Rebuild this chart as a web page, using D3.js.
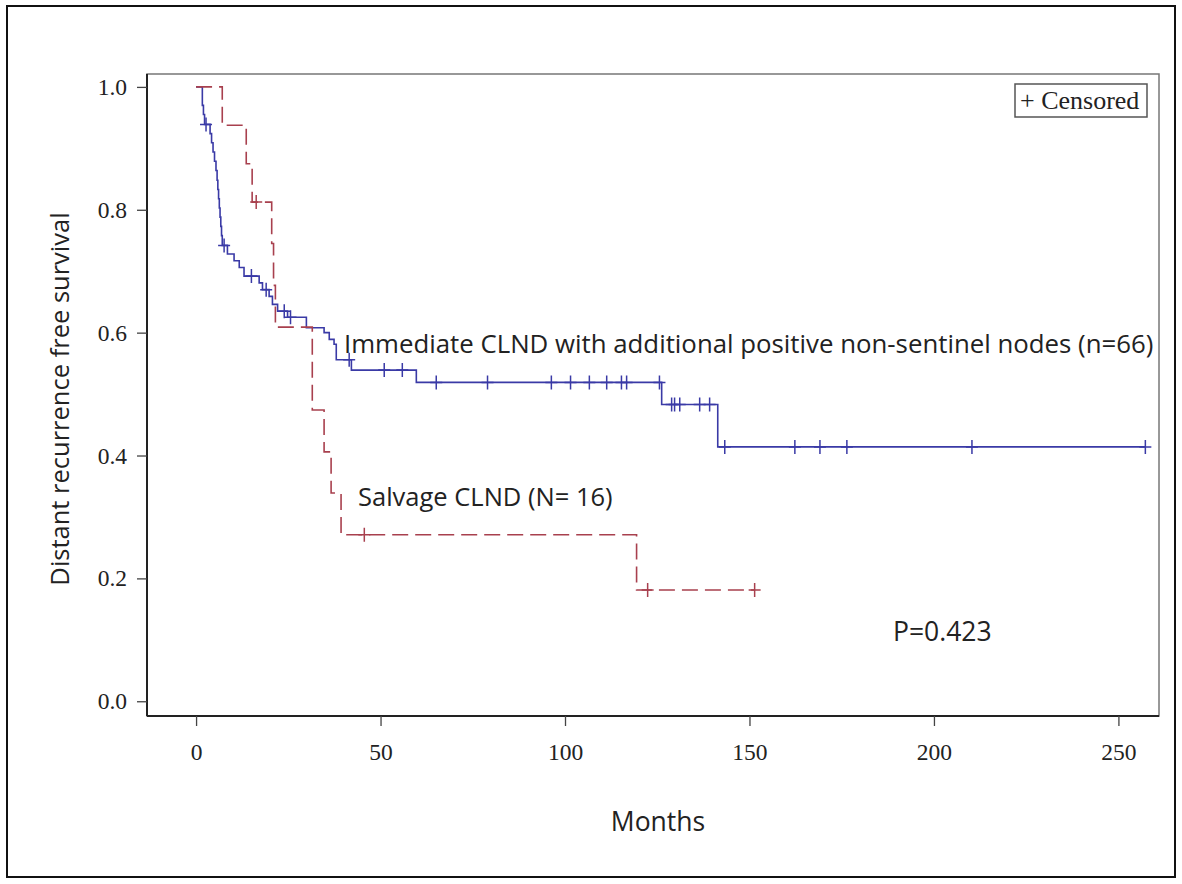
<!DOCTYPE html>
<html>
<head>
<meta charset="utf-8">
<script src="https://cdn.jsdelivr.net/npm/d3@7"></script>
<style>
  body { margin: 0; background: #fff; }
  svg { display: block; }
</style>
</head>
<body>
<div id="chart"></div>
<script>
// Kaplan-Meier steps (months, survival after the step)
const immTimes = [0, 1.7, 2.0, 2.3, 3.8, 4.2, 4.6, 5.0, 5.4, 5.7, 5.9, 6.1, 6.3, 6.5, 6.7, 6.9, 7.1,
  8.5, 10.3, 11.7, 13.0, 17.1, 18.0, 19.8, 20.7, 22.1, 24.8, 29.9, 34.7, 36.1, 37.4, 38.0, 42.1, 59.7, 126.2, 141.4];
const immSurv = [1, 0.970, 0.955, 0.939, 0.924, 0.909, 0.894, 0.879, 0.864, 0.848, 0.833, 0.818, 0.803, 0.788, 0.773, 0.758, 0.742,
  0.728, 0.717, 0.706, 0.692, 0.681, 0.670, 0.659, 0.646, 0.635, 0.625, 0.608, 0.600, 0.589, 0.581, 0.556, 0.539, 0.519, 0.483, 0.414];
const immCensored = [2.7, 7.6, 15.0, 19.0, 23.9, 25.6, 41.5, 51.0, 55.9, 65.1, 79.0, 96.3, 101.5, 106.6, 111.3,
  115.3, 116.7, 125.6, 128.9, 129.7, 131.1, 136.5, 139.2, 143.3, 162.3, 169.1, 176.4, 210.3, 257.3];

const salTimes = [0, 7.1, 13.6, 15.2, 20.5, 21.0, 21.5, 31.5, 34.7, 36.6, 39.3, 119.4];
const salSurv = [1, 0.9375, 0.875, 0.8125, 0.745, 0.677, 0.609, 0.474, 0.406, 0.339, 0.271, 0.181];
const salCensored = [16.3, 45.6, 122.4, 151.4];

const xTicks = [0, 50, 100, 150, 200, 250];
const yTicks = [0, 0.2, 0.4, 0.6, 0.8, 1.0];

const W = 1182, H = 884;
const plot = {left: 147, right: 1159, top: 74, bottom: 716};

const svg = d3.select('#chart').append('svg')
  .attr('width', W).attr('height', H);

// outer frame
svg.append('rect')
  .attr('x', 7).attr('y', 6).attr('width', 1168).attr('height', 871)
  .attr('fill', 'none').attr('stroke', '#111').attr('stroke-width', 2);

const x = d3.scaleLinear().domain([-13.3, 261]).range([plot.left, plot.right]);
const y = d3.scaleLinear().domain([-0.024, 1.021]).range([plot.bottom, plot.top]);

// plot box
svg.append('rect')
  .attr('x', plot.left).attr('y', plot.top)
  .attr('width', plot.right - plot.left).attr('height', plot.bottom - plot.top)
  .attr('fill', 'none').attr('stroke', '#777').attr('stroke-width', 1.5);

const serif = '"Liberation Serif", "Times New Roman", serif';
const sans = '"Open Sans", "Noto Sans", sans-serif';

const xAxis = svg.append('g')
  .attr('transform', `translate(0,${plot.bottom})`)
  .call(d3.axisBottom(x).tickValues(xTicks).tickSize(10).tickPadding(17).tickSizeOuter(0));
const yAxis = svg.append('g')
  .attr('transform', `translate(${plot.left},0)`)
  .call(d3.axisLeft(y).tickValues(yTicks).tickFormat(d3.format('.1f')).tickSize(10).tickPadding(10).tickSizeOuter(0));

[xAxis, yAxis].forEach(function(g){
  g.select('.domain').attr('stroke', '#222').attr('stroke-width', 2);
  g.selectAll('.tick line').attr('stroke', '#444').attr('stroke-width', 1.3);
  g.selectAll('.tick text').attr('font-family', serif).attr('font-size', 23.5).attr('fill', '#222');
});
xAxis.select('.domain').attr('d', `M${plot.left},0H${plot.right}`);
yAxis.select('.domain').attr('d', `M0,${plot.top}V${plot.bottom}`);

function stepData(times, surv, censored){
  const pts = times.map(function(t, i){ return [t, surv[i]]; });
  const last = d3.max(censored.concat(times));
  pts.push([last, surv[surv.length - 1]]);
  return pts;
}
function survAt(times, surv, t){
  return surv[d3.bisectRight(times, t) - 1];
}

const line = d3.line()
  .x(function(d){ return x(d[0]); })
  .y(function(d){ return y(d[1]); })
  .curve(d3.curveStepAfter);

const series = [
  {times: immTimes, surv: immSurv, cens: immCensored, color: '#3a3aa6', dash: null},
  {times: salTimes, surv: salSurv, cens: salCensored, color: '#a8404e', dash: '16,7'}
];

series.forEach(function(s){
  svg.append('path')
    .datum(stepData(s.times, s.surv, s.cens))
    .attr('d', line)
    .attr('fill', 'none')
    .attr('stroke', s.color)
    .attr('stroke-width', 1.6)
    .attr('stroke-dasharray', s.dash);

  svg.append('g').selectAll('path')
    .data(s.cens)
    .enter()
    .append('path')
    .attr('d', function(t){
      const cx = x(t), cy = y(survAt(s.times, s.surv, t));
      return `M${cx - 6},${cy}H${cx + 6}M${cx},${cy - 7}V${cy + 7}`;
    })
    .attr('stroke', s.color)
    .attr('stroke-width', 1.5);
});

// legend
svg.append('rect')
  .attr('x', 1015).attr('y', 84).attr('width', 132).attr('height', 33)
  .attr('fill', '#fff').attr('stroke', '#555').attr('stroke-width', 1.5);
svg.append('text')
  .attr('x', 1020).attr('y', 109)
  .attr('font-family', serif).attr('font-size', 26).attr('fill', '#222')
  .text('+ Censored');

// annotations
function label(txt, tx, ty, size){
  return svg.append('text')
    .attr('x', tx).attr('y', ty)
    .attr('font-family', sans).attr('font-size', size).attr('fill', '#222')
    .text(txt);
}
label('Immediate CLND with additional positive non-sentinel nodes (n=66)', 344, 353, 25.8);
label('Salvage CLND (N= 16)', 358, 506, 25.5);
label('P=0.423', 893, 641, 26.5);

label('Months', 658, 831, 26.5).attr('text-anchor', 'middle');
svg.append('text')
  .attr('transform', 'translate(69,399) rotate(-90)')
  .attr('text-anchor', 'middle')
  .attr('font-family', sans).attr('font-size', 25.5).attr('fill', '#222')
  .text('Distant recurrence free survival');
</script>
</body>
</html>
